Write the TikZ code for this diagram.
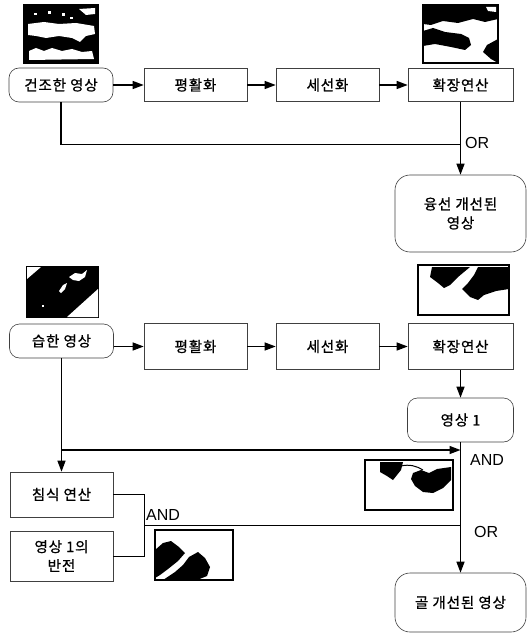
\documentclass[tikz,border=0pt]{standalone}
\usepackage{fontspec}
\setmainfont{Noto Sans CJK KR}[LetterSpace=6, FakeBold=0.9]
\newfontfamily\latinfont{Liberation Sans}
\usetikzlibrary{arrows.meta}

\begin{document}
\begin{tikzpicture}[
    x=1pt, y=-1pt,
    every node/.style={inner sep=2pt, font=\fontsize{14.5}{19}\selectfont},
    box/.style={draw=black!75, line width=0.6pt, minimum width=103pt,
        minimum height=33pt, align=center},
    rbox/.style={box, rounded corners=10pt},
    thumb/.style={draw, line width=1.6pt, inner sep=0pt, outer sep=0pt},
    lbl/.style={font=\latinfont\fontsize{16}{18}\selectfont, anchor=west,
        inner sep=0pt},
    link/.style={line width=1.3pt},
    >={Triangle[length=11pt,width=8pt]}
]
\useasboundingbox (0,0) rectangle (527,636);

% Primera fila
\node[rbox, minimum width=104pt, minimum height=34pt] (dry) at (61,85) {건조한 영상};
\node[box] (smoothA) at (195.5,85) {평활화};
\node[box] (thinA) at (327.5,85) {세선화};
\node[box, minimum width=105pt] (dilateA) at (460.5,85) {확장연산};
\node[rbox, rounded corners=15pt, minimum width=131pt, minimum height=77pt]
    (ridge) at (460.5,213.5) {융선 개선된\\영상};

\coordinate (joinA) at (460.5,144.5);

\draw[link,->] (dry) -- (smoothA);
\draw[link,->] (smoothA) -- (thinA);
\draw[link,->] (thinA) -- (dilateA);
\draw[link] (dry.south) |- (joinA);
\draw[link,->] (dilateA.south) -- (ridge.north);
\node[lbl] (orA) at (465,143) {OR};

% Segunda fila
\node[rbox, minimum width=104pt, minimum height=34pt] (wet) at (61.5,341) {습한 영상};
\node[box, minimum height=46pt] (smoothB) at (195.5,346.5) {평활화};
\node[box, minimum height=46pt] (thinB) at (327.5,346.5) {세선화};
\node[box, minimum width=105pt, minimum height=46pt] (dilateB) at (460.5,346.5) {확장연산};
\node[rbox, minimum width=106pt, minimum height=44pt] (img1) at (460.5,420) {영상 1};

\draw[link,->] (wet.east |- smoothB) -- (smoothB);
\draw[link,->] (smoothB) -- (thinB);
\draw[link,->] (thinB) -- (dilateB);
\draw[link,->] (dilateB.south) -- (img1.north);

% Tercera parte
\node[box, minimum height=45pt] (erode) at (61.5,494.5) {침식 연산};
\node[box, minimum height=50pt, inner sep=1pt] (invert) at (61.5,556) {영상 1의\\반전};
\node[rbox, rounded corners=15pt, minimum width=131pt, minimum height=59pt]
    (valley) at (460.5,602.5) {골 개선된 영상};

\coordinate (tapB) at (61.5,450);
\coordinate (joinB) at (460.5,450);
\coordinate (brkTop) at (144.5,494.5);
\coordinate (andL) at (144.5,525);
\coordinate (joinC) at (460.5,525);

\draw[link,->] (wet.south) -- (erode.north);
\draw[link,->] (tapB) -- (joinB);
\draw[link,->] (img1.south) -- (valley.north);
\draw[line width=0.7pt] (erode.east) -- (brkTop) |- (invert.east);
\draw[line width=0.9pt] (andL) -- (joinC);
\node[lbl] (andA) at (470,460) {AND};
\node[lbl] (andB) at (146,514.5) {AND};
\node[lbl] (orB) at (474,532) {OR};

% Miniaturas
\node[thumb, minimum width=74pt, minimum height=58pt] (picDry) at (61,34) {};
\begin{scope}[shift={(picDry.north west)}]
  \fill (0,0) rectangle (74,58);
  \fill[white] (4,19) -- (20,17) -- (35,19) -- (52,18) -- (70,21) -- (71,29)
    -- (62,31) -- (56,37) -- (48,33) -- (35,31) -- (22,33) -- (12,31) -- (4,30) -- cycle;
  \fill[white] (5,46) -- (12,43) -- (20,46) -- (28,43) -- (38,46) -- (48,44)
    -- (58,47) -- (68,46) -- (70,54) -- (5,55) -- cycle;
  \fill[white] (55,4) -- (71,3) -- (71,9) -- (62,10) -- cycle;
  \fill[white] (10,8) rectangle (13,10);
  \fill[white] (24,6) rectangle (27,9);
  \fill[white] (38,8) rectangle (41,11);
  \fill[white] (46,12) rectangle (49,14);
\end{scope}

\node[thumb, minimum width=75pt, minimum height=58pt] (picDilA) at (460.5,34) {};
\begin{scope}[shift={(picDilA.north west)}]
  \fill (0,0) -- (75,0) -- (75,14) -- (62,17) -- (50,14) -- (35,18) -- (20,16)
    -- (8,20) -- (0,19) -- cycle;
  \fill[white] (63,2) -- (73,2) -- (73,7) -- (65,6) -- cycle;
  \fill (0,26) -- (10,23) -- (22,27) -- (38,29) -- (46,33) -- (48,40) -- (42,45)
    -- (28,42) -- (12,39) -- (0,41) -- cycle;
  \fill (75,34) -- (64,40) -- (60,47) -- (68,54) -- (75,58) -- cycle;
\end{scope}

\node[thumb, minimum width=71pt, minimum height=50pt] (picWet) at (62.5,292) {};
\begin{scope}[shift={(picWet.north west)}]
  \fill (0,0) rectangle (71,50);
  \fill[white] (0,0) -- (14,0) -- (0,12) -- cycle;
  \fill[white] (71,22) -- (71,50) -- (40,50) -- cycle;
  \fill[white] (42,10) -- (48,6) -- (55,7) -- (60,3) -- (58,10) -- (52,14) -- (46,13) -- cycle;
  \fill[white] (32,24) -- (36,18) -- (40,16) -- (38,22) -- (34,26) -- cycle;
  \fill[white] (15,38) rectangle (17,40);
\end{scope}

\node[thumb, minimum width=91pt, minimum height=50pt] (picDilB) at (463.5,290) {};
\begin{scope}[shift={(picDilB.north west)}]
  \fill (14,2) -- (52,2) -- (40,12) -- (32,20) -- (26,23) -- (20,18) -- (12,12) -- cycle;
  \fill (60,2) -- (91,2) -- (91,24) -- (78,26) -- (66,30) -- (60,35) -- (52,32)
    -- (44,24) -- (50,18) -- (56,10) -- cycle;
\end{scope}

\node[thumb, minimum width=88pt, minimum height=50pt] (picAnd) at (409,485) {};
\begin{scope}[shift={(picAnd.north west)}]
  \fill (15,2) -- (38,2) -- (36,10) -- (28,20) -- (22,16) -- (15,12) -- cycle;
  \fill (48,13) -- (56,10) -- (64,13) -- (72,9) -- (86,7) -- (86,20) -- (78,28)
    -- (68,33) -- (58,32) -- (50,26) -- (46,19) -- cycle;
  \draw[line width=1pt] (36,6) .. controls (44,4) and (52,6) .. (58,10);
\end{scope}

\node[thumb, minimum width=78pt, minimum height=50pt] (picErode) at (194,555) {};
\begin{scope}[shift={(picErode.north west)}]
  \fill (0,20) -- (8,13) -- (16,11) -- (24,17) -- (30,23) -- (23,31) -- (13,39)
    -- (5,45) -- (0,48) -- cycle;
  \fill (8,50) -- (20,42) -- (28,35) -- (34,27) -- (43,22) -- (50,28) -- (55,37)
    -- (52,46) -- (42,50) -- cycle;
\end{scope}

\end{tikzpicture}
\end{document}
